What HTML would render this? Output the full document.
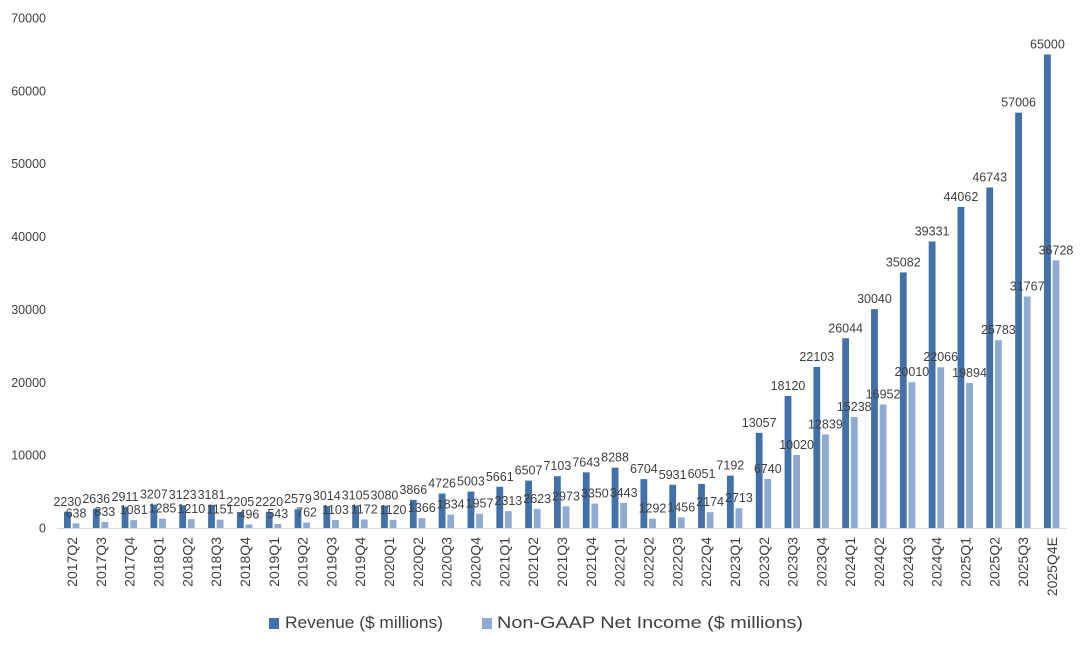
<!DOCTYPE html>
<html><head><meta charset="utf-8"><style>
html,body{margin:0;padding:0;background:#fff;}
svg text{font-family:"Liberation Sans",sans-serif;fill:#404040;}
</style></head><body>
<svg id="chart" width="1080" height="641" xmlns="http://www.w3.org/2000/svg">
<g id="yaxis"></g>
<g id="bars"></g>
<g id="xaxis"></g>
<g>
<rect x="269" y="618" width="10" height="11" fill="#4270a8"/>
<text x="285" y="628" font-size="17" textLength="158" lengthAdjust="spacingAndGlyphs">Revenue ($ millions)</text>
<rect x="482" y="618" width="10" height="11" fill="#8faad3"/>
<text x="497" y="628" font-size="17" textLength="306" lengthAdjust="spacingAndGlyphs">Non-GAAP Net Income ($ millions)</text>
</g>
</svg>
<script>
const categories=["2017Q2","2017Q3","2017Q4","2018Q1","2018Q2","2018Q3","2018Q4","2019Q1","2019Q2","2019Q3","2019Q4","2020Q1","2020Q2","2020Q3","2020Q4","2021Q1","2021Q2","2021Q3","2021Q4","2022Q1","2022Q2","2022Q3","2022Q4","2023Q1","2023Q2","2023Q3","2023Q4","2024Q1","2024Q2","2024Q3","2024Q4","2025Q1","2025Q2","2025Q3","2025Q4E"];
const revenue=[2230,2636,2911,3207,3123,3181,2205,2220,2579,3014,3105,3080,3866,4726,5003,5661,6507,7103,7643,8288,6704,5931,6051,7192,13057,18120,22103,26044,30040,35082,39331,44062,46743,57006,65000];
const income=[638,833,1081,1285,1210,1151,496,543,762,1103,1172,1120,1366,1834,1957,2313,2623,2973,3350,3443,1292,1456,2174,2713,6740,10020,12839,15238,16952,20010,22066,19894,25783,31767,36728];
const yTicks=[0,10000,20000,30000,40000,50000,60000,70000];
const NS="http://www.w3.org/2000/svg";
const y0=528,y1=18,ymax=70000;
const yS=v=>y0-(v/ymax)*(y0-y1);
const x0=72,step=(1052-72)/(categories.length-1);
const xS=i=>x0+i*step;
function mk(tag,attrs,parent,txt){const e=document.createElementNS(NS,tag);for(const k in attrs)e.setAttribute(k,attrs[k]);if(txt!==undefined)e.textContent=txt;parent.appendChild(e);return e;}
const ya=document.getElementById('yaxis'),ba=document.getElementById('bars'),xa=document.getElementById('xaxis');
yTicks.forEach(t=>{
  const e=mk('text',{x:46,y:yS(t)+4.5,'text-anchor':'end','font-size':12.5},ya,String(t));
  
  
});
const ax=mk('line',{x1:57,x2:1067,y1:y0+0.5,y2:y0+0.5,stroke:'#d9d9d9','stroke-width':1},xa);


categories.forEach((c,i)=>{
  const cx=xS(i),bw=6.8;
  const r=mk('rect',{x:cx-8,y:yS(revenue[i]),width:bw,height:y0-yS(revenue[i]),fill:'#4270a8'},ba);
  
  
  const n=mk('rect',{x:cx+0.6,y:yS(income[i]),width:bw,height:y0-yS(income[i]),fill:'#8faad3'},ba);
  
  
  const lr=mk('text',{x:cx-4.6,y:yS(revenue[i])-6,'text-anchor':'middle','font-size':12.5},ba,String(revenue[i]));
  
  
  const li=mk('text',{x:cx+4,y:yS(income[i])-6,'text-anchor':'middle','font-size':12.5},ba,String(income[i]));
  
  
  const xl=mk('text',{x:0,y:0,'text-anchor':'end','font-size':14,transform:`translate(${cx+5},537) rotate(-90)`},xa,c);
  
  
});
</script>
</body></html>
